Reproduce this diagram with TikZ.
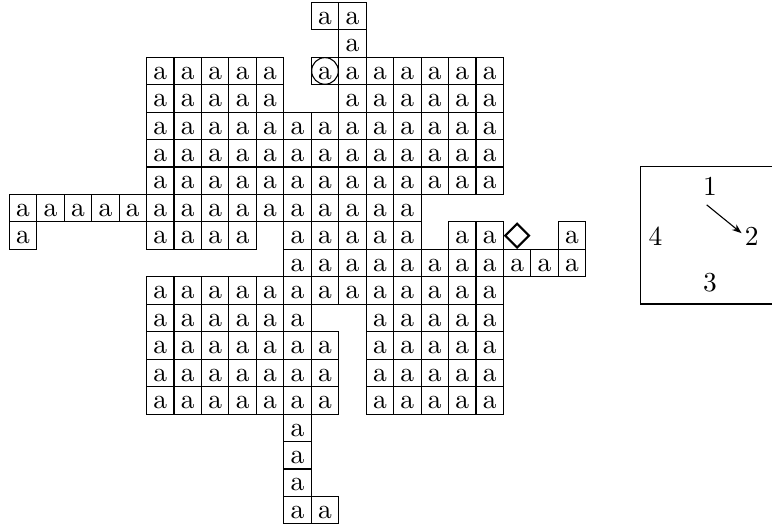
\documentclass[tikz,border=0pt]{standalone}
\usetikzlibrary{shapes.geometric,arrows.meta}
\begin{document}
\begin{tikzpicture}[x=0.3643pt, y=-0.3643pt,
  cell/.style={draw, line width=0.4pt, minimum size=10pt, inner sep=0pt, text height=6pt, text depth=0pt},
  ringmark/.style={draw, circle, line width=0.4pt, minimum size=9.7pt, inner sep=0pt},
  diamark/.style={draw, diamond, aspect=1, line width=0.8pt, minimum size=9pt, inner sep=0pt},
  framebox/.style={draw, line width=0.4pt, minimum width=50.8pt, minimum height=50pt, inner sep=0pt},
  digit/.style={inner sep=3.33pt},
  arr/.style={-{Stealth[length=3.5pt,width=2.6pt]}, line width=0.4pt}]
\useasboundingbox (0,0) rectangle (772,529);
% grid of cells: row/first col/last col
\foreach \r/\a/\b in {0/11/12, 1/12/12,
  2/5/9, 2/11/17, 3/5/9, 3/12/17,
  4/5/17, 5/5/17, 6/5/17,
  7/0/14,
  8/0/0, 8/5/8, 8/10/14, 8/16/17, 8/20/20,
  9/10/20, 10/5/17,
  11/5/10, 11/13/17, 12/5/11, 12/13/17, 13/5/11, 13/13/17, 14/5/11, 14/13/17,
  15/10/10, 16/10/10, 17/10/10, 18/10/11} {
  \foreach \c in {\a,...,\b} {
    \node[cell] (c\r-\c) at ({9.3+27.45*(\c+0.5)},{2.3+27.45*(\r+0.5)}) {a};
  }
}
\node[ringmark] (ring) at (c2-11) {};
\node[diamark] (dia) at ({9.3+27.45*18.5},{2.3+27.45*8.5}) {};
% right frame
\node[framebox] (frame) at (710,235.4) {};
\node[digit] (n1) at (710,186) {1};
\node[digit, inner sep=1pt] (n2) at (751.7,235.9) {2};
\node[digit] (n3) at (710,282.2) {3};
\node[digit] (n4) at (655.5,235.9) {4};
\draw[arr] (n1.-100) -- (n2.165);
\end{tikzpicture}
\end{document}
